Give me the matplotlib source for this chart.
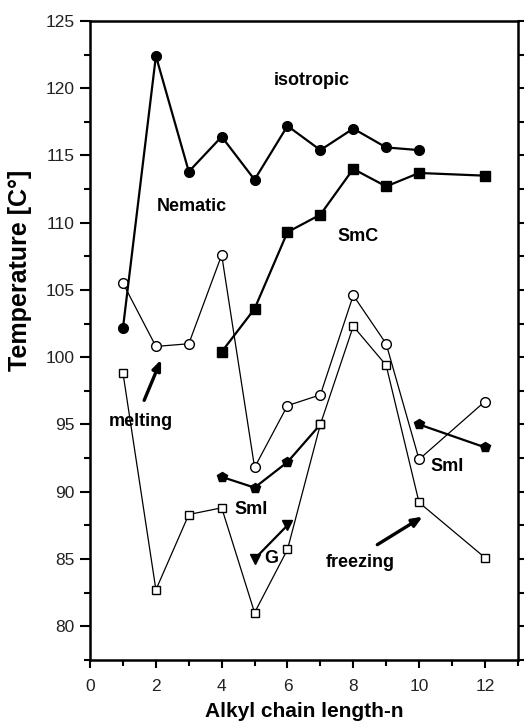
import matplotlib
matplotlib.use("Agg")
import matplotlib.pyplot as plt
from matplotlib.ticker import MultipleLocator

plt.rcParams["font.family"] = ["Liberation Sans", "DejaVu Sans"]

# chain length n
n_all = [1, 2, 3, 4, 5, 6, 7, 8, 9, 10, 12]
n_iso = [1, 2, 3, 4, 5, 6, 7, 8, 9, 10]
n_smc = [4, 5, 6, 7, 8, 9, 10, 12]

# transition temperatures
t_iso = [102.2, 122.4, 113.8, 116.4, 113.2, 117.2, 115.4, 117.0, 115.6, 115.4]
t_smc = [100.4, 103.6, 109.3, 110.6, 114.0, 112.7, 113.7, 113.5]
t_melt = [105.5, 100.8, 101.0, 107.6, 91.8, 96.4, 97.2, 104.6, 101.0, 92.4, 96.7]
t_freeze = [98.8, 82.7, 88.3, 88.8, 81.0, 85.7, 95.0, 102.3, 99.4, 89.2, 85.1]
n_smi_a = [4, 5, 6, 7]
t_smi_a = [91.1, 90.3, 92.2, 95.0]
n_smi_b = [10, 12]
t_smi_b = [95.0, 93.3]
n_g = [5, 6]
t_g = [85.0, 87.5]

fig = plt.figure(figsize=(5.24, 7.25), dpi=100)
ax = fig.add_axes([0.172, 0.09, 0.816, 0.881])

thin = dict(color="black", lw=0.9, mfc="white", mec="black", mew=1.0)
thick = dict(color="black", lw=1.6, mfc="black", mec="black")

ax.plot(n_all, t_melt, marker="o", ms=7, **thin)
ax.plot(n_all, t_freeze, marker="s", ms=6, **thin)
ax.plot(n_iso, t_iso, marker="o", ms=7, **thick)
ax.plot(n_smc, t_smc, marker="s", ms=6.5, **thick)
ax.plot(n_smi_a[:3], t_smi_a[:3], marker="p", ms=7.5, **thick)
ax.plot(n_smi_a[2:], t_smi_a[2:], color="black", lw=1.6)
ax.plot(n_smi_b, t_smi_b, marker="p", ms=7.5, **thick)
ax.plot(n_g, t_g, marker="v", ms=7, **thick)
# redraw the open square on top where SmI line ends
ax.plot(n_all[6:7], t_freeze[6:7], ls="none", marker="s", ms=6, mfc="white", mec="black", mew=1.0)

lab = dict(fontsize=13, fontweight="bold", ha="center", va="center")
ax.text(6.75, 120.6, "isotropic", **lab)
ax.text(3.1, 111.2, "Nematic", **lab)
ax.text(8.15, 109.0, "SmC", **lab)
ax.text(1.55, 95.2, "melting", **lab)
ax.text(4.9, 88.7, "SmI", **lab)
ax.text(5.5, 85.0, "G", **lab)
ax.text(10.85, 91.9, "SmI", **lab)
ax.text(8.2, 84.7, "freezing", **lab)

arr = dict(arrowstyle="-|>,head_length=0.6,head_width=0.25", color="black", lw=2.4)
ax.annotate("", xy=(2.19, 100.0), xytext=(1.61, 96.6), arrowprops=arr)
ax.annotate("", xy=(10.18, 88.25), xytext=(8.66, 85.95), arrowprops=arr)

ax.set_xlim(0, 13)
ax.set_ylim(77.5, 125)
ax.xaxis.set_major_locator(MultipleLocator(2))
ax.xaxis.set_minor_locator(MultipleLocator(1))
ax.yaxis.set_major_locator(MultipleLocator(5))
ax.yaxis.set_minor_locator(MultipleLocator(2.5))
ax.tick_params(which="both", direction="out", width=1.5, labelsize=12.5,
               right=True, top=False, color="black", labelcolor="#222222")
ax.tick_params(axis="x", which="major", length=6, pad=8)
ax.tick_params(axis="y", which="major", length=7.5, pad=3.5)
ax.tick_params(which="minor", length=4)
for s in ax.spines.values():
    s.set_linewidth(1.8)

ax.set_xlabel("Alkyl chain length-n", fontsize=15, fontweight="bold")
ax.xaxis.set_label_coords(0.5, -0.066)
ax.set_ylabel("Temperature [C°]", fontsize=18, fontweight="bold")
ax.yaxis.set_label_coords(-0.135, 0.61)

fig.savefig("out.png", dpi=100)
